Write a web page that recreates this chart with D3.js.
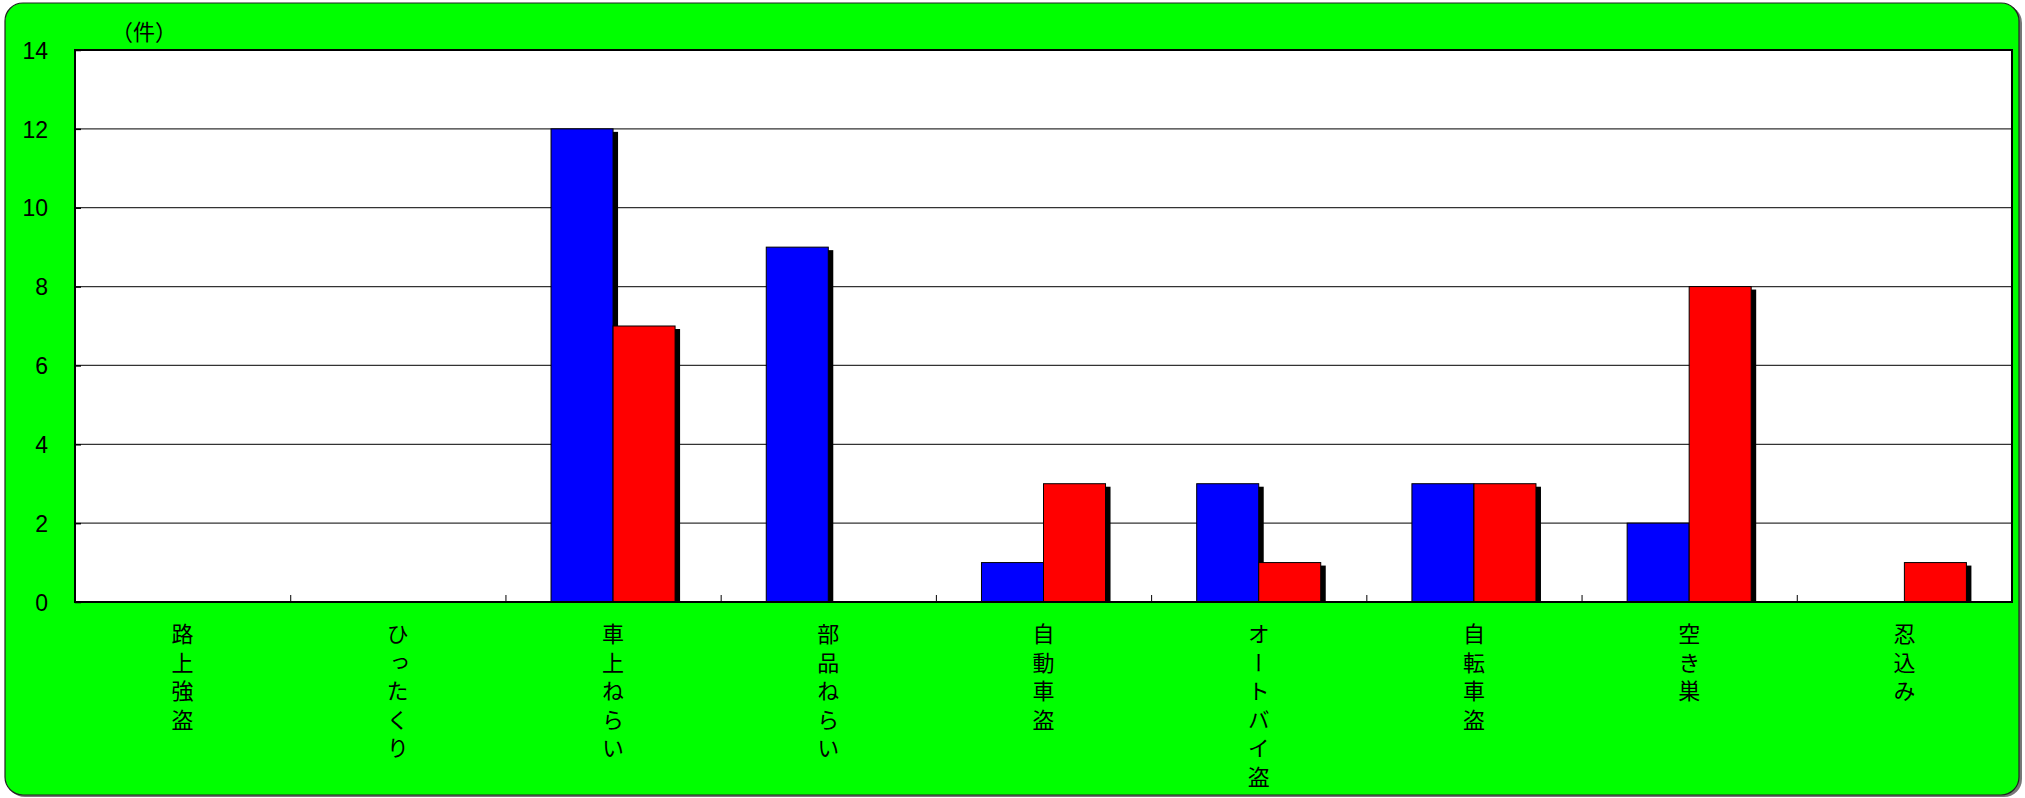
<!DOCTYPE html>
<html>
<head>
<meta charset="utf-8">
<script src="https://cdn.jsdelivr.net/npm/d3@7"></script>
<style>
  body { margin: 0; background: #fff; }
  .num { font-family: "Liberation Sans", Arial, sans-serif; font-size: 23px; fill: #000; }
  .jp { font-family: "Noto Sans CJK JP", sans-serif; font-size: 22px; fill: #000; }
  .cat { writing-mode: vertical-rl; text-orientation: upright; letter-spacing: 6.5px; }
</style>
</head>
<body>
<svg id="chart" width="2025" height="798"></svg>
<script>
// categories and counts
var categories = ["路上強盗", "ひったくり", "車上ねらい", "部品ねらい", "自動車盗", "オートバイ盗", "自転車盗", "空き巣", "忍込み"];
var seriesNames = ["blue", "red"];
var blueValues = [0, 0, 12, 9, 1, 3, 3, 2, 0];
var redValues  = [0, 0, 7, 0, 3, 1, 3, 8, 1];
var yTicks = [0, 2, 4, 6, 8, 10, 12, 14];
var unitLabel = "（件）";

var colors = {blue: "#0000ff", red: "#ff0000"};

var svg = d3.select("#chart");
var plot = {left: 75, top: 50, right: 2012, bottom: 602};

// outer green panel with a small shadow
svg.append("rect")
  .attr("x", 7).attr("y", 5)
  .attr("width", 2015).attr("height", 792)
  .attr("rx", 18)
  .attr("fill", "#777");
svg.append("rect")
  .attr("x", 5).attr("y", 3)
  .attr("width", 2014).attr("height", 792)
  .attr("rx", 18)
  .attr("fill", "#00ff00")
  .attr("stroke", "#222")
  .attr("stroke-width", 1.2);

// plot area
svg.append("rect")
  .attr("x", plot.left).attr("y", plot.top)
  .attr("width", plot.right - plot.left).attr("height", plot.bottom - plot.top)
  .attr("fill", "#fff");

var x0 = d3.scaleBand()
  .domain(categories)
  .range([plot.left, plot.right]);

var x1 = d3.scaleBand()
  .domain(seriesNames)
  .range([0, x0.bandwidth()])
  .paddingOuter(0.735);

var y = d3.scaleLinear()
  .domain([0, 14])
  .range([plot.bottom, plot.top]);

// gridlines
svg.append("g")
  .selectAll("line")
  .data(yTicks.slice(1, -1))
  .enter().append("line")
    .attr("x1", plot.left).attr("x2", plot.right)
    .attr("y1", function(d) { return y(d); })
    .attr("y2", function(d) { return y(d); })
    .attr("stroke", "#333")
    .attr("stroke-width", 1.3);

var rows = categories.map(function(c, i) {
  return {cat: c, vals: [{s: "blue", v: blueValues[i]}, {s: "red", v: redValues[i]}]};
});

var groups = svg.append("g")
  .selectAll("g")
  .data(rows)
  .enter().append("g")
    .attr("transform", function(d) { return "translate(" + x0(d.cat) + ",0)"; });

// shadows first, bars on top
groups.selectAll(".shadow")
  .data(function(d) { return d.vals.filter(function(e) { return e.v > 0; }); })
  .enter().append("rect")
    .attr("class", "shadow")
    .attr("x", function(d) { return x1(d.s) + 5; })
    .attr("y", function(d) { return y(d.v) + 3; })
    .attr("width", x1.bandwidth())
    .attr("height", function(d) { return y(0) - y(d.v) - 3; })
    .attr("fill", "#000");

groups.selectAll(".bar")
  .data(function(d) { return d.vals.filter(function(e) { return e.v > 0; }); })
  .enter().append("rect")
    .attr("class", "bar")
    .attr("x", function(d) { return x1(d.s); })
    .attr("y", function(d) { return y(d.v); })
    .attr("width", x1.bandwidth())
    .attr("height", function(d) { return y(0) - y(d.v); })
    .attr("fill", function(d) { return colors[d.s]; })
    .attr("stroke", "#000")
    .attr("stroke-width", 1);

// plot border
svg.append("rect")
  .attr("x", plot.left).attr("y", plot.top)
  .attr("width", plot.right - plot.left).attr("height", plot.bottom - plot.top)
  .attr("fill", "none")
  .attr("stroke", "#000")
  .attr("stroke-width", 2);

// y axis
var yAxis = svg.append("g")
  .attr("transform", "translate(" + plot.left + ",0)")
  .call(d3.axisLeft(y).tickValues(yTicks).tickSize(-6).tickPadding(27));
yAxis.select(".domain").remove();
yAxis.selectAll("line").attr("stroke", "#000").attr("stroke-width", 1.5);
yAxis.selectAll("text").attr("class", "num").attr("font-size", null).attr("font-family", null)
  .attr("dy", "0.36em");

// category separator ticks on the bottom axis
var xb = d3.scaleLinear().domain([0, categories.length]).range([plot.left, plot.right]);
var xAxis = svg.append("g")
  .attr("transform", "translate(0," + plot.bottom + ")")
  .call(d3.axisBottom(xb).tickValues(d3.range(1, categories.length)).tickSize(-7).tickFormat(""));
xAxis.select(".domain").remove();
xAxis.selectAll("line").attr("stroke", "#000").attr("stroke-width", 1);

// vertical category labels
svg.append("g")
  .selectAll("text")
  .data(categories)
  .enter().append("text")
    .attr("class", "jp cat")
    .attr("x", function(d) { return x0(d) + x0.bandwidth() / 2; })
    .attr("y", 623)
    .text(function(d) { return d; });

// unit label
svg.append("text")
  .attr("class", "jp")
  .attr("x", 144)
  .attr("y", 40)
  .attr("text-anchor", "middle")
  .text(unitLabel);
</script>
</body>
</html>
